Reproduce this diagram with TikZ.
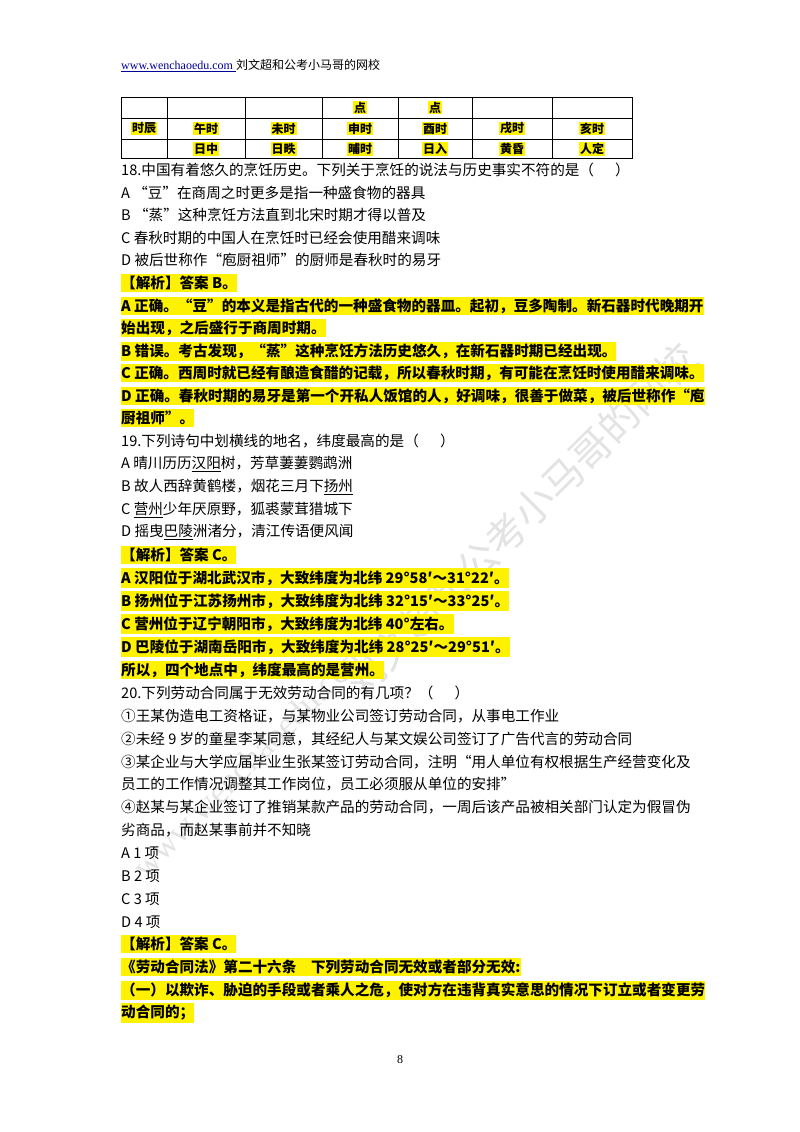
\documentclass[tikz,border=0pt]{standalone}
\usepackage{fontspec}
\setmainfont{Noto Sans CJK SC}
\newfontfamily\lserif{Liberation Serif}
\begin{document}
\begin{tikzpicture}[x=1pt,y=-1pt,
  ln/.style={anchor=west,inner xsep=0pt,inner ysep=2pt,font=\fontsize{14.6}{16}\selectfont},
  hl/.style={ln,fill=yellow,font=\fontsize{14.6}{16}\selectfont\bfseries},
  cell/.style={fill=yellow,inner xsep=1pt,inner ysep=1pt,font=\fontsize{12}{13}\selectfont\bfseries}]
\useasboundingbox (0,0) rectangle (800,1132);
\fill[white] (0,0) rectangle (800,1132);
% watermark
\node[rotate=45,text=gray!22,font=\fontsize{40}{40}\selectfont] (wm1) at (520,520) {刘文超和公考小马哥的网校};
\node[rotate=45,text=gray!22,font=\fontsize{34}{34}\selectfont\lserif] (wm2) at (250,760) {www.wenchaoedu.com};
% header
\node[anchor=west,inner sep=0pt,font=\fontsize{12}{13}\selectfont] (hdr) at (121,66) {{\lserif\color{blue!60!black}\underline{www.wenchaoedu.com }}刘文超和公考小马哥的网校};
% table
\draw[line width=0.6pt] (121,97) rectangle (632,158);
\draw[line width=0.6pt] (121,118) -- (632,118) (121,139) -- (632,139);
\foreach \x in {167,245,322,398,472,552} \draw[line width=0.6pt] (\x,97) -- (\x,158);
\node[cell] (p1) at (360,107.5) {点};
\node[cell] (p2) at (435,107.5) {点};
\node[cell] (t0) at (144,128.5) {时辰};
\foreach \x/\t [count=\i] in {206/午时,283.5/未时,360/申时,435/酉时,512/戌时,592/亥时} \node[cell] (r\i) at (\x,128.5) {\t};
\foreach \x/\t [count=\i] in {206/日中,283.5/日昳,360/晡时,435/日入,512/黄昏,592/人定} \node[cell] (s\i) at (\x,149) {\t};
% Q18
\node[ln] (a1) at (121,170) {18.中国有着悠久的烹饪历史。下列关于烹饪的说法与历史事实不符的是（\quad\ \ ）};
\node[ln] (a2) at (121,193) {A “豆”在商周之时更多是指一种盛食物的器具};
\node[ln] (a3) at (121,215) {B “蒸”这种烹饪方法直到北宋时期才得以普及};
\node[ln] (a4) at (121,238) {C 春秋时期的中国人在烹饪时已经会使用醋来调味};
\node[ln] (a5) at (121,260) {D 被后世称作“庖厨祖师”的厨师是春秋时的易牙};
\node[hl] (a6) at (121,283) {【解析】答案 B。};
\node[hl] (a7) at (121,306) {A 正确。“豆”的本义是指古代的一种盛食物的器皿。起初，豆多陶制。新石器时代晚期开};
\node[hl] (a8) at (121,328) {始出现，之后盛行于商周时期。};
\node[hl] (a9) at (121,351) {B 错误。考古发现，“蒸”这种烹饪方法历史悠久，在新石器时期已经出现。};
\node[hl] (a10) at (121,373) {C 正确。西周时就已经有酿造食醋的记载，所以春秋时期，有可能在烹饪时使用醋来调味。};
\node[hl] (a11) at (121,396) {D 正确。春秋时期的易牙是第一个开私人饭馆的人，好调味，很善于做菜，被后世称作“庖};
\node[hl] (a12) at (121,418) {厨祖师”。};
% Q19
\node[ln] (b1) at (121,441) {19.下列诗句中划横线的地名，纬度最高的是（\quad\ \ ）};
\node[ln] (b2) at (121,464) {A 晴川历历\underline{汉阳}树，芳草萋萋鹦鹉洲};
\node[ln] (b3) at (121,487) {B 故人西辞黄鹤楼，烟花三月下\underline{扬州}};
\node[ln] (b4) at (121,510) {C \underline{营州}少年厌原野，狐裘蒙茸猎城下};
\node[ln] (b5) at (121,532) {D 摇曳\underline{巴陵}洲渚分，清江传语便风闻};
\node[hl] (b6) at (121,555) {【解析】答案 C。};
\node[hl] (b7) at (121,578) {A 汉阳位于湖北武汉市，大致纬度为北纬 29°58′～31°22′。};
\node[hl] (b8) at (121,601) {B 扬州位于江苏扬州市，大致纬度为北纬 32°15′～33°25′。};
\node[hl] (b9) at (121,624) {C 营州位于辽宁朝阳市，大致纬度为北纬 40°左右。};
\node[hl] (b10) at (121,647) {D 巴陵位于湖南岳阳市，大致纬度为北纬 28°25′～29°51′。};
\node[hl] (b11) at (121,670) {所以，四个地点中，纬度最高的是营州。};
% Q20
\node[ln] (c1) at (121,693) {20.下列劳动合同属于无效劳动合同的有几项？（\quad\ \ ）};
\node[ln] (c2) at (121,716) {①王某伪造电工资格证，与某物业公司签订劳动合同，从事电工作业};
\node[ln] (c3) at (121,739) {②未经 9 岁的童星李某同意，其经纪人与某文娱公司签订了广告代言的劳动合同};
\node[ln] (c4) at (121,762) {③某企业与大学应届毕业生张某签订劳动合同，注明“用人单位有权根据生产经营变化及};
\node[ln] (c5) at (121,784) {员工的工作情况调整其工作岗位，员工必须服从单位的安排”};
\node[ln] (c6) at (121,807) {④赵某与某企业签订了推销某款产品的劳动合同，一周后该产品被相关部门认定为假冒伪};
\node[ln] (c7) at (121,830) {劣商品，而赵某事前并不知晓};
\node[ln] (c8) at (121,853) {A 1 项};
\node[ln] (c9) at (121,876) {B 2 项};
\node[ln] (c10) at (121,899) {C 3 项};
\node[ln] (c11) at (121,922) {D 4 项};
\node[hl] (c12) at (121,944) {【解析】答案 C。};
\node[hl] (c13) at (121,967) {《劳动合同法》第二十六条\quad 下列劳动合同无效或者部分无效:};
\node[hl] (c14) at (121,990) {（一）以欺诈、胁迫的手段或者乘人之危，使对方在违背真实意思的情况下订立或者变更劳};
\node[hl] (c15) at (121,1013) {动合同的；};
\node[font=\fontsize{12}{13}\selectfont\lserif] (pg) at (400,1060) {8};
\end{tikzpicture}
\end{document}
